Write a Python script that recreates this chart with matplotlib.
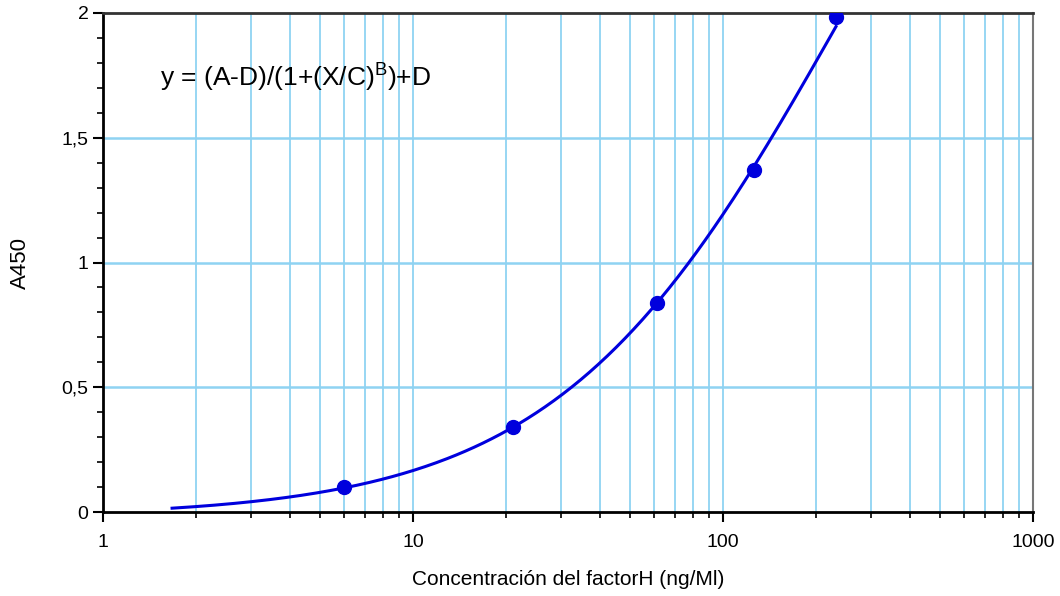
import numpy as np
import matplotlib
matplotlib.use("Agg")
import matplotlib.pyplot as plt
from matplotlib.ticker import FixedLocator, FixedFormatter, NullFormatter

plt.rcParams['font.family'] = ['Liberation Sans', 'DejaVu Sans']
plt.rcParams['mathtext.default'] = 'regular'

# datos del estandar
conc = [6.0, 21.0, 61.2, 126.0, 231.5]
a450 = [0.100, 0.341, 0.838, 1.371, 1.984]

# parametros 4PL estimados: y = (A-D)/(1+(X/C)^B)+D
A = -0.02
B = 0.95
C = 240.0
D = 3.98
x_ini = 1.67

x_ticks = [1, 10, 100, 1000]
x_labels = ["1", "10", "100", "1000"]
y_ticks = [0, 0.5, 1, 1.5, 2]
y_labels = ["0", "0,5", "1", "1,5", "2"]

xs = np.logspace(np.log10(x_ini), np.log10(conc[-1]), 300)
ys = (A - D) / (1 + (xs / C) ** B) + D

fig = plt.figure(figsize=(10.6, 5.96), dpi=100)
ax = fig.add_axes([0.0972, 0.1409, 0.8773, 0.8373])

ax.set_xscale('log')
ax.set_xlim(1, 1000)
ax.set_ylim(0, 2)

grid_c = '#8fd3f2'
minors = [m * 10 ** e for e in range(0, 3) for m in range(2, 10)]
for xv in minors + [10, 100]:
    ax.axvline(xv, color=grid_c, lw=1.3, zorder=0)
for yv in [0.5, 1, 1.5]:
    ax.axhline(yv, color=grid_c, lw=1.8, zorder=0)

ax.plot(xs, ys, color='#0000dd', lw=2.2, zorder=3)
ax.plot(conc, a450, 'o', color='#0000dd', ms=10, zorder=4)

ax.xaxis.set_major_locator(FixedLocator(x_ticks))
ax.xaxis.set_major_formatter(FixedFormatter(x_labels))
ax.xaxis.set_minor_locator(FixedLocator(minors))
ax.xaxis.set_minor_formatter(NullFormatter())
ax.yaxis.set_major_locator(FixedLocator(y_ticks))
ax.yaxis.set_major_formatter(FixedFormatter(y_labels))
ax.yaxis.set_minor_locator(FixedLocator(np.arange(0, 2.01, 0.1)))

ax.tick_params(axis='both', which='major', direction='out', length=7, width=1.5, labelsize=14)
ax.tick_params(axis='both', which='minor', direction='out', length=4, width=1.2)
ax.tick_params(axis='x', pad=9)

for s in ['left', 'bottom']:
    ax.spines[s].set_linewidth(2)
    ax.spines[s].set_color('black')
ax.spines['top'].set_linewidth(2)
ax.spines['top'].set_color('#333333')
ax.spines['right'].set_linewidth(1.5)
ax.spines['right'].set_color('#777777')

ax.text(0.061, 0.87, "y = (A-D)/(1+(X/C)$^{B}$)+D", transform=ax.transAxes,
        fontsize=19, va='center', ha='left')

ax.set_ylabel("A450", fontsize=16)
ax.yaxis.set_label_coords(-0.078, 0.5)
ax.set_xlabel("Concentración del factorH (ng/Ml)", fontsize=15)
ax.xaxis.set_label_coords(0.5, -0.116)

fig.savefig("out.png", dpi=100)
